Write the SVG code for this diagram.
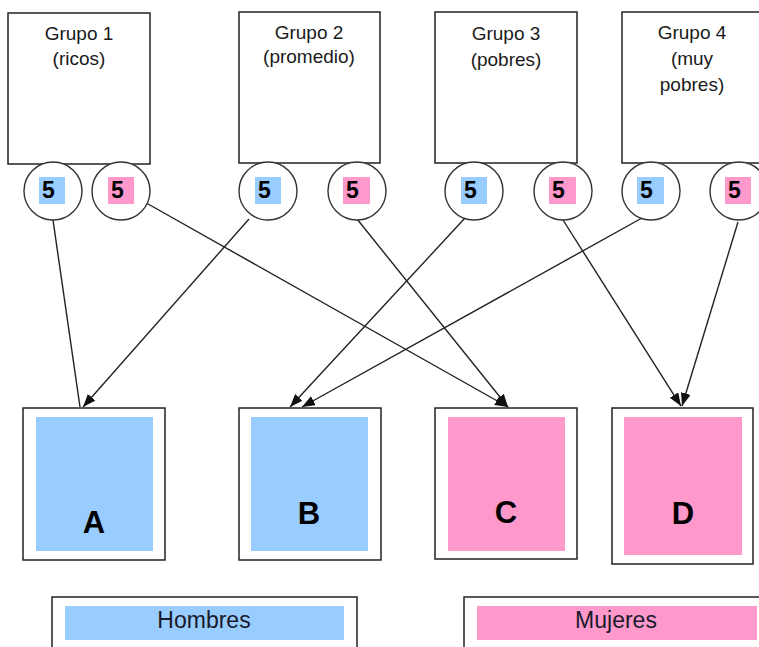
<svg xmlns="http://www.w3.org/2000/svg" width="759" height="647" viewBox="0 0 759 647">
<defs>
<style>
.box{fill:#fff;stroke:#222;stroke-width:1.5}
.circ{fill:#fff;stroke:#333;stroke-width:1.4}
.blue{fill:#99ccff}
.pink{fill:#ff99cc}
.lbl{font-family:"Liberation Sans",Arial,sans-serif;font-size:19px;fill:#1a1a1a;text-anchor:middle}
.num{font-family:"Liberation Sans",Arial,sans-serif;font-size:23px;font-weight:bold;fill:#000}
.big{font-family:"Liberation Sans",Arial,sans-serif;font-size:31px;font-weight:bold;fill:#000;text-anchor:middle}
.leg{font-family:"Liberation Sans",Arial,sans-serif;font-size:23px;fill:#1a1a2a;text-anchor:middle}
.edge{stroke:#222;stroke-width:1.4;fill:none}
</style>
<marker id="ah" markerUnits="userSpaceOnUse" markerWidth="14" markerHeight="12" refX="13" refY="5" orient="auto">
<path d="M0,0 L13,5 L0,10 z" fill="#111"/>
</marker>
</defs>
<rect width="759" height="647" fill="#fff"/>

<g id="grupo1">
<rect class="box" x="8" y="13" width="142" height="151"/>
<text class="lbl" x="79" y="40">Grupo 1</text>
<text class="lbl" x="79" y="65">(ricos)</text>
</g>
<g id="grupo2">
<rect class="box" x="239" y="12" width="141" height="151"/>
<text class="lbl" x="309" y="39">Grupo 2</text>
<text class="lbl" x="309" y="63">(promedio)</text>
</g>
<g id="grupo3">
<rect class="box" x="435" y="12" width="142" height="151"/>
<text class="lbl" x="506" y="40">Grupo 3</text>
<text class="lbl" x="506" y="66">(pobres)</text>
</g>
<g id="grupo4">
<rect class="box" x="622" y="12" width="142" height="151"/>
<text class="lbl" x="692" y="39">Grupo 4</text>
<text class="lbl" x="692" y="65">(muy</text>
<text class="lbl" x="692" y="91">pobres)</text>
</g>

<g id="connectors">
<line class="edge" x1="53" y1="220" x2="80" y2="407"/>
<line class="edge" x1="141" y1="200" x2="508" y2="407" marker-end="url(#ah)"/>
<line class="edge" x1="249" y1="219" x2="83" y2="407" marker-end="url(#ah)"/>
<line class="edge" x1="357" y1="219" x2="508" y2="407" marker-end="url(#ah)"/>
<line class="edge" x1="465" y1="218" x2="290" y2="407" marker-end="url(#ah)"/>
<line class="edge" x1="642" y1="218" x2="302" y2="407" marker-end="url(#ah)"/>
<line class="edge" x1="563" y1="220" x2="681" y2="406" marker-end="url(#ah)"/>
<line class="edge" x1="738" y1="222" x2="682" y2="406" marker-end="url(#ah)"/>
</g>

<g id="g1h"><circle class="circ" cx="53" cy="191" r="29"/><rect class="blue" x="39" y="177" width="26" height="27"/><text class="num" x="42" y="198">5</text></g>
<g id="g1m"><circle class="circ" cx="121" cy="191" r="29"/><rect class="pink" x="108" y="177" width="26" height="27"/><text class="num" x="111" y="198">5</text></g>
<g id="g2h"><circle class="circ" cx="268" cy="191" r="29"/><rect class="blue" x="255" y="177" width="26" height="27"/><text class="num" x="258" y="198">5</text></g>
<g id="g2m"><circle class="circ" cx="357" cy="191" r="29"/><rect class="pink" x="343" y="177" width="27" height="27"/><text class="num" x="346" y="198">5</text></g>
<g id="g3h"><circle class="circ" cx="474" cy="191" r="29"/><rect class="blue" x="461" y="177" width="26" height="27"/><text class="num" x="464" y="198">5</text></g>
<g id="g3m"><circle class="circ" cx="563" cy="191" r="29"/><rect class="pink" x="549" y="177" width="27" height="27"/><text class="num" x="552" y="198">5</text></g>
<g id="g4h"><circle class="circ" cx="651" cy="191" r="29"/><rect class="blue" x="637" y="177" width="27" height="27"/><text class="num" x="640" y="198">5</text></g>
<g id="g4m"><circle class="circ" cx="739" cy="191" r="29"/><rect class="pink" x="725" y="177" width="26" height="27"/><text class="num" x="728" y="198">5</text></g>

<g id="A">
<rect class="box" x="23" y="408" width="142" height="152"/>
<rect class="blue" x="36" y="417" width="117" height="134"/>
<text class="big" x="94" y="533">A</text>
</g>
<g id="B">
<rect class="box" x="239" y="408" width="142" height="152"/>
<rect class="blue" x="251" y="417" width="117" height="134"/>
<text class="big" x="309" y="524">B</text>
</g>
<g id="C">
<rect class="box" x="435" y="408" width="142" height="151"/>
<rect class="pink" x="448" y="417" width="117" height="134"/>
<text class="big" x="506" y="523">C</text>
</g>
<g id="D">
<rect class="box" x="612" y="408" width="141" height="156"/>
<rect class="pink" x="624" y="417" width="118" height="138"/>
<text class="big" x="683" y="524">D</text>
</g>

<g id="hombres">
<rect class="box" x="52" y="597" width="305" height="60"/>
<rect class="blue" x="65" y="606" width="279" height="34"/>
<text class="leg" x="204" y="628">Hombres</text>
</g>
<g id="mujeres">
<rect class="box" x="464" y="597" width="310" height="60"/>
<rect class="pink" x="477" y="606" width="280" height="34"/>
<text class="leg" x="616" y="628">Mujeres</text>
</g>
</svg>
